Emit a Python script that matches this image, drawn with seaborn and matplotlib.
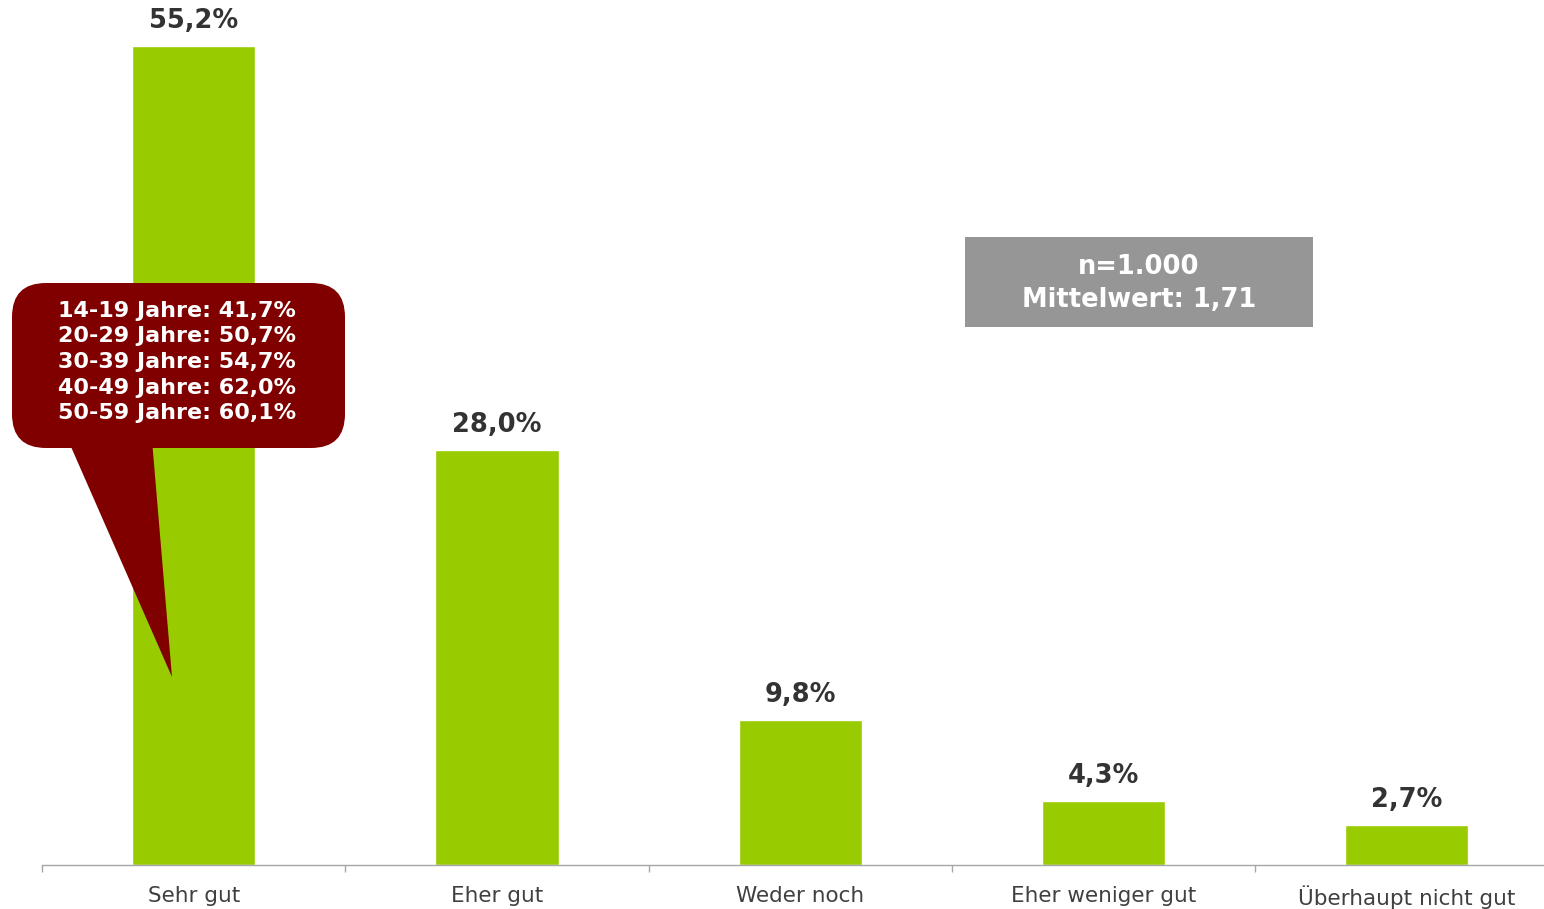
import matplotlib.pyplot as plt
import matplotlib.transforms as mtransforms
from matplotlib.patches import FancyBboxPatch, Polygon
import seaborn as sns
import pandas as pd

categories = ["Sehr gut", "Eher gut", "Weder noch", "Eher weniger gut", "Überhaupt nicht gut"]
values = [55.2, 28.0, 9.8, 4.3, 2.7]
value_labels = ["55,2%", "28,0%", "9,8%", "4,3%", "2,7%"]
age_lines = [
    "14-19 Jahre: 41,7%",
    "20-29 Jahre: 50,7%",
    "30-39 Jahre: 54,7%",
    "40-49 Jahre: 62,0%",
    "50-59 Jahre: 60,1%",
]
info_lines = ["n=1.000", "Mittelwert: 1,71"]

W, H = 1544, 909
sns.set_style("white")
plt.rcParams["font.family"] = ["DejaVu Sans"]

fig = plt.figure(figsize=(W / 100, H / 100), dpi=100)
ax = fig.add_axes([42 / W, 44 / H, 1 - 42 / W, 1 - 44 / H])

df = pd.DataFrame({"kategorie": categories, "anteil": values})
sns.barplot(data=df, x="kategorie", y="anteil", color="#99CC00", width=0.406,
            saturation=1, ax=ax)

# the last category runs a little past the right edge, as in the original
ax.set_xlim(-0.5, 4.452)
ax.set_ylim(0, 58.3)
ax.set_xlabel("")
ax.set_ylabel("")
ax.set_yticks([])
for s in ["top", "right", "left"]:
    ax.spines[s].set_visible(False)
ax.spines["bottom"].set_color("#a6a6a6")
ax.spines["bottom"].set_linewidth(1.0)

ax.set_xticks(range(len(categories)))
ax.set_xticklabels(categories, fontsize=15.5, color="#404040")
ax.tick_params(axis="x", which="major", bottom=True, length=0, pad=15)
ax.set_xticks([i - 0.5 for i in range(len(categories))], minor=True)
ax.tick_params(axis="x", which="minor", bottom=True, length=5, color="#a6a6a6", width=1)

for i, (v, lab) in enumerate(zip(values, value_labels)):
    ax.annotate(lab, (i, v), xytext=(0, 18), textcoords="offset points",
                ha="center", va="center", fontsize=18.5, fontweight="bold",
                color="#333333")

# pixel coordinates (y downward)
px = mtransforms.Affine2D().scale(1 / W, -1 / H).translate(0, 1) + fig.transFigure

# callout
red = "#800000"
fig.patches.append(Polygon([(68, 440), (152, 440), (172, 677)], closed=True,
                           transform=px, facecolor=red, edgecolor="none"))
fig.patches.append(FancyBboxPatch((12, 283), 333, 165,
                                  boxstyle="round,pad=0,rounding_size=34",
                                  transform=px, facecolor=red, edgecolor="none"))
for k, line in enumerate(age_lines):
    fig.text(58 / W, 1 - (311 + k * 25.5) / H, line, ha="left", va="center",
             fontsize=16, fontweight="bold", color="white")

# info box
fig.patches.append(FancyBboxPatch((965, 237), 348, 90, boxstyle="square,pad=0",
                                  transform=px, facecolor="#969696", edgecolor="none"))
for k, line in enumerate(info_lines):
    fig.text(1139 / W, 1 - (267 + k * 33) / H, line, ha="center", va="center",
             fontsize=18.5, fontweight="bold", color="white")

fig.savefig("out.png", dpi=100)
